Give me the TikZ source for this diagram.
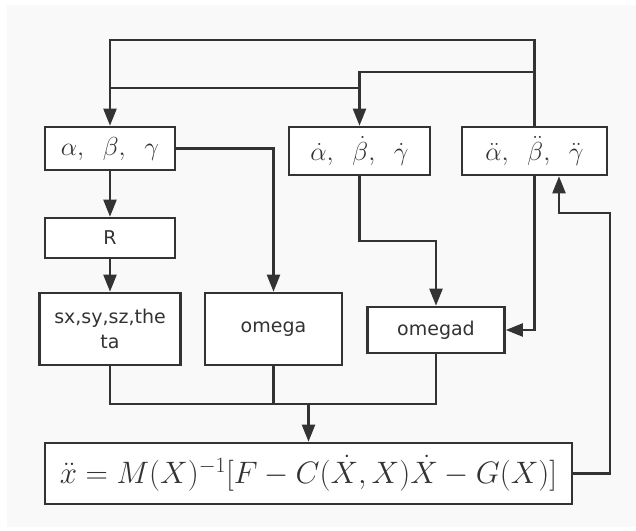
\RequirePackage{fix-cm}
\documentclass[tikz,border=0pt]{standalone}
\usepackage{fontspec}
\setsansfont{DejaVu Sans}
\usetikzlibrary{arrows.meta}
\definecolor{ink}{HTML}{333333}
\definecolor{bg}{HTML}{F9F9F9}
\tikzset{
  x=1pt, y=-1pt,
  blk/.style={draw=ink, line width=2.6pt, fill=white, inner sep=0pt, text=ink},
  mathbox/.style={blk, font=\fontsize{26}{30}\selectfont},
  txtbox/.style={blk, font=\sffamily\fontsize{19}{25}\selectfont, align=center},
  wire/.style={draw=ink, line width=2.2pt},
  arr/.style={wire, -{Triangle[length=17pt,width=13pt]}},
}
\begin{document}
\begin{tikzpicture}
\useasboundingbox (0,0) rectangle (636,530);
\fill[bg] (7,5) rectangle (636,527);

% boxes
\node[mathbox, minimum width=130pt, minimum height=43pt] (A) at (110,148.5) {$\alpha,\hspace{0.55em}\beta,\hspace{0.55em}\gamma$};
\node[mathbox, minimum width=141pt, minimum height=48pt] (B) at (359.5,151) {$\dot\alpha,\hspace{0.55em}\dot\beta,\hspace{0.55em}\dot\gamma$};
\node[mathbox, minimum width=145pt, minimum height=48pt] (C) at (534.5,151) {$\ddot\alpha,\hspace{0.55em}\ddot\beta,\hspace{0.55em}\ddot\gamma$};
\node[txtbox, minimum width=130pt, minimum height=40pt] (R) at (110,238) {R};
\node[txtbox, minimum width=141pt, minimum height=72pt] (S) at (110,329) {sx,sy,sz,the\\ta};
\node[txtbox, minimum width=137pt, minimum height=72pt] (W) at (273.5,329) {omega};
\node[txtbox, minimum width=137pt, minimum height=46pt] (D) at (436,330) {omegad};
\node[blk, font=\fontsize{31}{37}\selectfont, minimum width=527pt, minimum height=61pt] (E) at (308.5,473.5)
  {$\ddot{x} = M(X)^{-1}[F - C(\dot{X}, X)\dot{X} - G(X)]$};

% junction coordinates
\coordinate (t1) at (534.5,40);
\coordinate (t2) at (110,40);
\coordinate (m1) at (534.5,72);
\coordinate (m2) at (359.5,72);
\coordinate (h1) at (110,88);
\coordinate (h2) at (359.5,88);
\coordinate (a1) at (273.5,148.5);
\coordinate (b1) at (359.5,241);
\coordinate (b2) at (436,241);
\coordinate (c1) at (534.5,330);
\coordinate (f1) at (610,473.5);
\coordinate (f2) at (610,213);
\coordinate (f3) at (559,213);
\coordinate (j1) at (110,404);
\coordinate (j2) at (273.5,404);
\coordinate (j3) at (436,404);
\coordinate (j4) at (308.5,404);

% connectors
\draw[arr] (C.north) -- (t1) -- (t2) -- (A.north);
\draw[arr] (m1) -- (m2) -- (B.north);
\draw[wire] (h1) -- (h2);
\draw[arr] (A.east) -- (a1) -- (W.north);
\draw[arr] (A.south) -- (R.north);
\draw[arr] (R.south) -- (S.north);
\draw[arr] (B.south) -- (b1) -- (b2) -- (D.north);
\draw[arr] (C.south) -- (c1) -- (D.east);
\draw[arr] (E.east) -- (f1) -- (f2) -- (f3) -- (f3 |- C.south);
\draw[wire] (S.south) -- (j1) -- (j3) -- (D.south);
\draw[wire] (W.south) -- (j2);
\draw[arr] (j4) -- (E.north);
\end{tikzpicture}
\end{document}
